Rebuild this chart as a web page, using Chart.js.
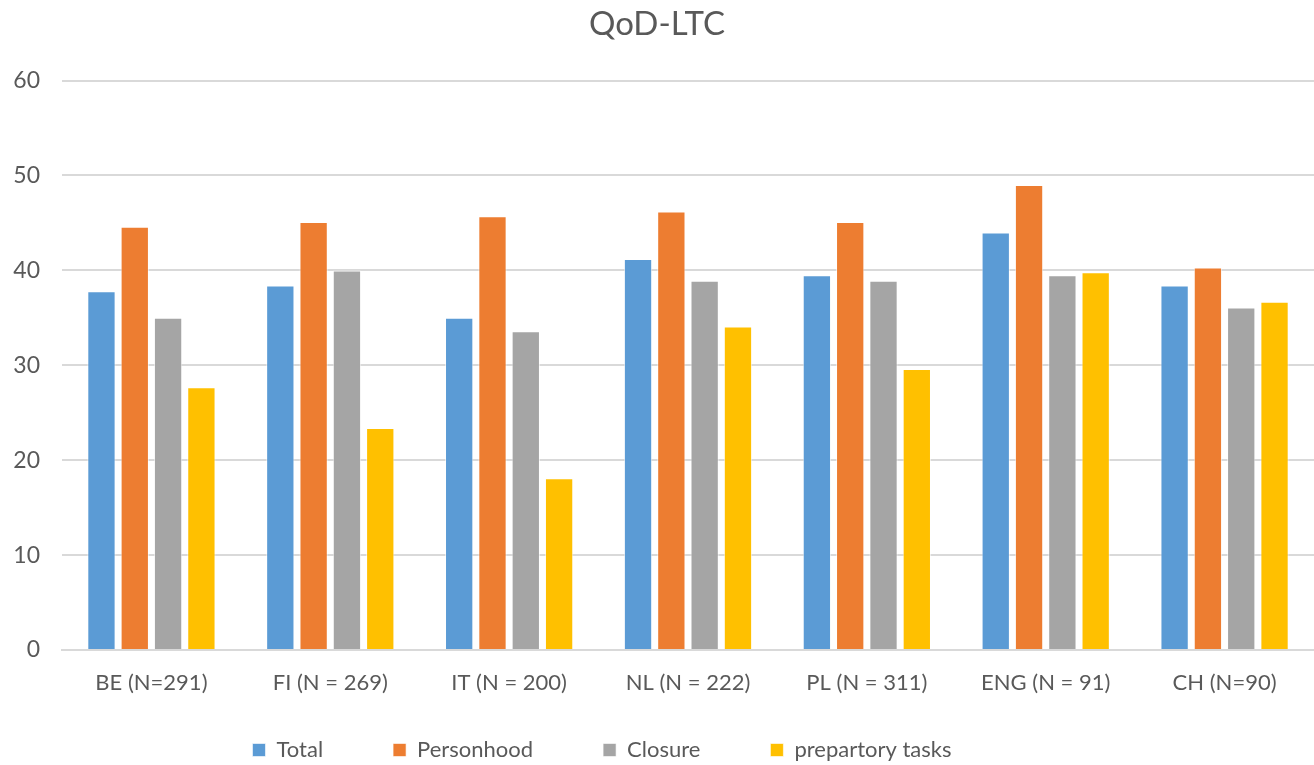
<!DOCTYPE html>
<html>
<head>
<meta charset="utf-8">
<script src="https://cdn.jsdelivr.net/npm/chart.js@4/dist/chart.umd.min.js"></script>
<style>
  html, body { margin: 0; padding: 0; background: #ffffff; }
  #wrap { width: 1314px; height: 765px; position: relative; }
</style>
</head>
<body>
<div id="wrap"><canvas id="c" width="1314" height="765"></canvas></div>
<script>
const categories = ["BE (N=291)", "FI (N = 269)", "IT (N = 200)", "NL (N = 222)", "PL (N = 311)", "ENG (N = 91)", "CH (N=90)"];
const seriesNames = ["Total", "Personhood", "Closure", "prepartory tasks"];
const totalValues = [37.8, 38.4, 35.0, 41.2, 39.5, 44.0, 38.4];
const personhoodValues = [44.6, 45.1, 45.7, 46.2, 45.1, 49.0, 40.3];
const closureValues = [35.0, 40.0, 33.6, 38.9, 38.9, 39.5, 36.1];
const prepartoryValues = [27.7, 23.4, 18.1, 34.1, 29.6, 39.8, 36.7];
const yTicks = [0, 10, 20, 30, 40, 50, 60];
const colors = ["#5b9bd5", "#ed7d31", "#a5a5a5", "#ffc000"];

const FONT = "Lato, 'Liberation Sans', sans-serif";
const textColor = "#595959";

const seriesValues = [totalValues, personhoodValues, closureValues, prepartoryValues];
const datasets = seriesNames.map((name, i) => ({
  label: name,
  data: seriesValues[i],
  backgroundColor: colors[i],
  borderColor: "rgba(255,255,255,0.6)",
  borderWidth: 1,
  categoryPercentage: 0.745,
  barPercentage: 0.85
}));

// Wide horizontal legend spacing without inflating the legend's height
const legendFix = {
  id: "legendFix",
  afterInit(chart) {
    const lg = chart.legend;
    if (!lg || lg._fixed) return;
    const origFit = lg.fit;
    lg.fit = function () { origFit.call(this); this.height = 65; };
    const origDraw = lg._draw;
    if (origDraw) {
      lg._draw = function () {
        const ctx = this.ctx;
        ctx.save();
        ctx.translate(-55, -31);
        origDraw.call(this);
        ctx.restore();
      };
    }
    lg._fixed = true;
  }
};

new Chart(document.getElementById("c"), {
  type: "bar",
  data: { labels: categories, datasets },
  plugins: [legendFix],
  options: {
    responsive: false,
    animation: false,
    layout: { padding: { left: 0, right: 0, top: 0, bottom: 0 } },
    plugins: {
      title: {
        display: true,
        text: "QoD-LTC",
        color: textColor,
        font: { family: FONT, size: 33, weight: "normal" },
        padding: { top: 5, bottom: 36 }
      },
      legend: {
        position: "bottom",
        labels: {
          color: textColor,
          font: { family: FONT, size: 22 },
          boxWidth: 13,
          boxHeight: 13,
          padding: 70
        }
      },
      tooltip: { enabled: false }
    },
    scales: {
      x: {
        grid: { display: false },
        border: { color: "#d9d9d9", width: 2 },
        ticks: { color: textColor, font: { family: FONT, size: 22 }, padding: 12, maxRotation: 0 },
        afterFit: (axis) => { axis.height = 50; }
      },
      y: {
        min: 0, max: 60,
        afterBuildTicks: (axis) => { axis.ticks = yTicks.map(v => ({ value: v })); },
        grid: { color: "#d9d9d9", lineWidth: 2, drawTicks: false },
        border: { display: false },
        ticks: { color: textColor, font: { family: FONT, size: 23 }, padding: 22 },
        afterFit: (axis) => { axis.width = 62; }
      }
    }
  }
});
</script>
</body>
</html>
